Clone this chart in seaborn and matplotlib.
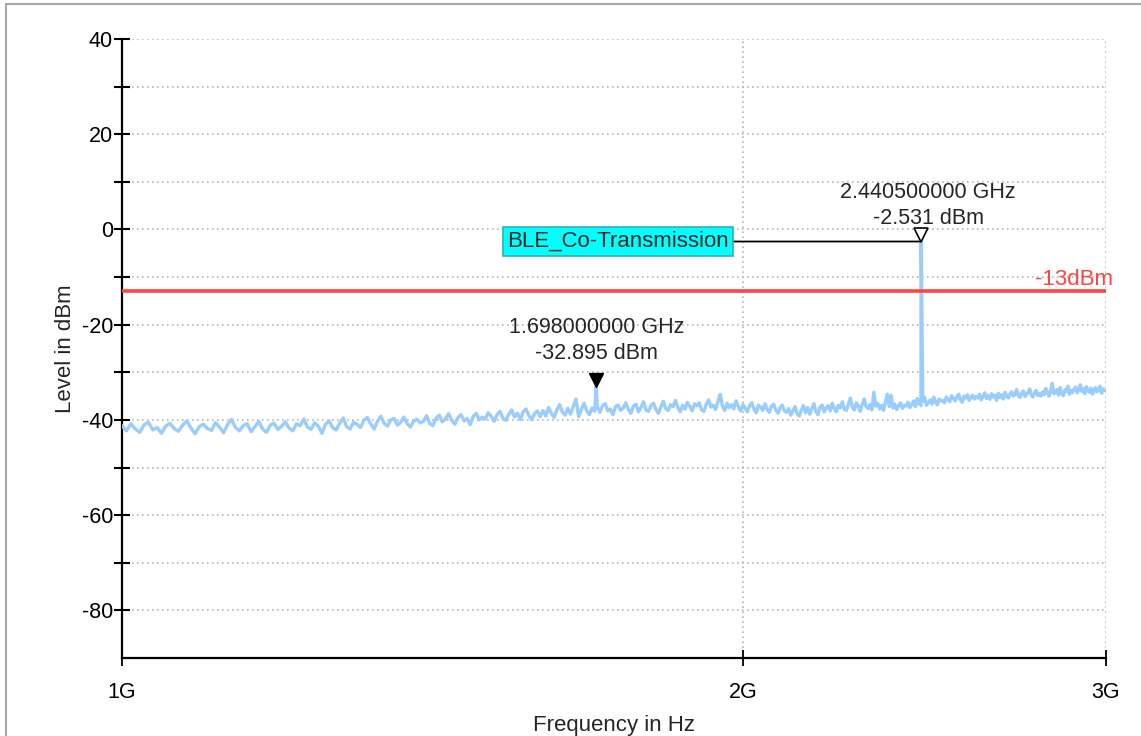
import numpy as np
import pandas as pd
import matplotlib
matplotlib.use("Agg")
import matplotlib.pyplot as plt
import matplotlib.ticker as mticker
from matplotlib.lines import Line2D
from matplotlib.transforms import offset_copy
import seaborn as sns

# ---------------- data ----------------
sweep_start_ghz = 1.0
sweep_stop_ghz = 3.0
# levels, 5 MHz steps from 1.0 GHz to 3.0 GHz (one row = 100 MHz)
sweep_levels_dbm = [
    -41.2, -42.3, -40.8, -41.9, -42.6, -41.0, -40.5, -42.1, -41.6, -42.8, -41.3, -40.7, -41.8, -42.4, -41.1, -40.2, -41.7, -42.9, -41.4, -40.9,
    -41.8, -42.2, -40.6, -41.5, -42.7, -41.0, -39.9, -41.6, -42.3, -41.2, -40.8, -42.5, -41.4, -40.3, -41.9, -42.6, -41.1, -40.7, -42.0, -41.3,
    -40.4, -41.7, -42.3, -40.8, -41.2, -39.8, -41.5, -42.0, -40.6, -41.3, -42.8, -40.9, -40.2, -41.6, -42.1, -40.7, -39.6, -41.4, -41.9, -40.5,
    -40.9, -41.6, -40.1, -39.5, -40.8, -41.9, -40.3, -39.2, -40.7, -41.3, -40.0, -39.7, -41.1, -40.5, -39.4, -40.8, -41.5, -40.2, -39.9, -40.6,
    -40.3, -39.1, -40.8, -41.2, -39.6, -39.0, -40.4, -39.8, -38.7, -40.1, -40.9, -39.5, -38.9, -40.2, -39.7, -41.0, -39.3, -38.6, -40.0, -39.4,
    -39.8, -38.5, -39.2, -40.3, -38.9, -38.2, -39.6, -40.1, -38.8, -37.9, -39.4, -38.6, -39.9, -38.3, -37.7, -39.1, -40.0, -38.7, -38.1, -39.3,
    -38.0, -39.2, -37.4, -38.6, -39.5, -37.9, -36.8, -38.3, -39.0, -37.6, -38.8, -37.2, -35.6, -39.3, -37.8, -36.5, -38.1, -38.9, -37.5, -38.2,
    -37.3, -38.4, -37.0, -36.6, -38.1, -37.7, -38.9, -37.2, -36.9, -38.0, -37.5, -36.4, -37.8, -38.6, -37.1, -36.7, -38.3, -37.4, -36.2, -37.9,
    -38.2, -37.0, -36.5, -37.8, -38.6, -37.3, -36.1, -37.6, -38.0, -36.8, -37.2, -35.9, -37.4, -38.3, -36.9, -37.7, -36.3, -37.1, -38.1, -36.6,
    -37.0, -36.4, -37.9, -38.2, -36.7, -35.8, -37.3, -36.9, -37.8, -36.2, -34.6, -37.1, -38.0, -36.5, -37.4, -36.8, -37.7, -36.0, -37.2, -38.1,
    -36.8, -37.5, -38.3, -37.0, -36.4, -37.7, -38.5, -36.9, -37.3, -38.0, -36.6, -37.8, -38.4, -37.1, -36.7, -37.9, -38.6, -37.4, -36.9, -38.1,
    -38.4, -37.6, -39.0, -38.1, -37.2, -38.7, -39.2, -37.9, -37.0, -38.5, -37.4, -38.8, -37.7, -36.6, -38.2, -38.9, -37.3, -36.9, -38.3, -37.5,
    -37.0, -38.1, -36.5, -37.6, -38.3, -36.9, -37.4, -36.2, -37.8, -38.0, -36.7, -35.4, -37.3, -37.9, -36.4, -37.1, -38.2, -36.8, -35.6, -37.2,
    -37.6, -36.8, -37.9, -34.2, -37.1, -36.5, -37.7, -36.9, -38.0, -36.3, -34.6, -37.2, -34.8, -37.5, -36.7, -37.8, -37.0, -36.4, -37.6, -36.9,
    -37.1, -36.3, -37.4, -36.8, -36.0, -37.2, -35.5, -36.6, -37.0, -36.1, -35.3, -36.9, -36.4, -35.8, -36.7, -35.2, -36.2, -36.8, -35.6, -36.0,
    -35.9, -36.4, -35.2, -35.7, -36.2, -34.9, -35.5, -36.0, -35.1, -34.6, -35.8, -36.3, -35.0, -35.4, -34.7, -35.9, -35.3, -34.8, -35.6, -35.1,
    -35.4, -34.6, -35.8, -35.1, -34.3, -35.5, -34.9, -35.7, -34.5, -35.2, -34.8, -35.9, -34.4, -35.3, -34.7, -35.6, -34.2, -35.0, -35.4, -34.6,
    -34.1, -35.0, -34.7, -33.6, -34.9, -35.3, -34.4, -33.9, -35.1, -34.6, -34.2, -33.5, -34.8, -35.2, -34.3, -33.8, -34.9, -34.5, -35.0, -34.1,
    -34.7, -33.4, -34.2, -35.0, -33.9, -32.3, -34.5, -34.1, -33.6, -34.8, -33.2, -34.4, -34.9, -33.7, -34.0, -32.9, -34.6, -33.8, -34.3, -33.5,
    -33.1, -34.3, -33.7, -32.6, -34.0, -33.4, -34.5, -33.0, -33.8, -34.2, -33.3, -34.6, -33.9, -33.2, -34.1, -33.6, -32.9, -34.4, -33.5, -33.8,
    -33.9,
]
# marker peaks
marker_freqs_ghz = [1.698, 2.4405]
marker_levels_dbm = [-32.895, -2.531]
marker_labels = ["1.698000000 GHz\n-32.895 dBm", "2.440500000 GHz\n-2.531 dBm"]
limit_level_dbm = -13
limit_label = "-13dBm"
trace_name = "BLE_Co-Transmission"
x_tick_values_hz = [1e9, 2e9, 3e9]
x_tick_labels = ["1G", "2G", "3G"]
y_major_ticks = [40, 20, 0, -20, -40, -60, -80]
y_minor_ticks = [30, 10, -10, -30, -50, -70]

# ---------------- build frame ----------------
sweep_freqs_ghz = np.linspace(sweep_start_ghz, sweep_stop_ghz, len(sweep_levels_dbm))
df = pd.DataFrame({
    "freq_hz": np.concatenate([sweep_freqs_ghz, marker_freqs_ghz]) * 1e9,
    "level": np.concatenate([sweep_levels_dbm, marker_levels_dbm]),
}).sort_values("freq_hz").reset_index(drop=True)

# ---------------- style ----------------
sns.set_style("white")
plt.rcParams["font.family"] = ["Liberation Sans", "DejaVu Sans"]
plt.rcParams["axes.unicode_minus"] = False

fig = plt.figure(figsize=(11.41, 7.36), dpi=100)
ax = fig.add_axes([122 / 1141, 1 - 658 / 736, (1106 - 122) / 1141, (658 - 39) / 736])

trace_color = "#99ccff"
sns.lineplot(data=df, x="freq_hz", y="level", ax=ax, color=trace_color,
             linewidth=2.4, estimator=None, sort=False, zorder=3)

ax.set_xscale("log")
ax.set_xlim(1e9, 3e9)
ax.set_ylim(-90, 40)

ax.xaxis.set_major_locator(mticker.FixedLocator(x_tick_values_hz))
ax.xaxis.set_major_formatter(mticker.FixedFormatter(x_tick_labels))
ax.xaxis.set_minor_locator(mticker.NullLocator())
ax.yaxis.set_major_locator(mticker.FixedLocator(y_major_ticks))
ax.yaxis.set_minor_locator(mticker.FixedLocator(y_minor_ticks))

grid_kw = dict(color="#b8b8b8", linestyle=(0, (1, 2)), linewidth=1.2)
ax.grid(True, which="major", axis="both", **grid_kw)
ax.grid(True, which="minor", axis="y", **grid_kw)
ax.set_axisbelow(True)

for s in ["top", "right"]:
    ax.spines[s].set_visible(False)
for s in ["left", "bottom"]:
    ax.spines[s].set_color("black")
    ax.spines[s].set_linewidth(1.6)

ax.tick_params(axis="y", which="both", left=True, direction="inout", length=11, width=1.5,
               colors="black", labelsize=15.5, pad=1)
ax.tick_params(axis="x", which="major", bottom=True, direction="inout", length=12, width=1.3,
               colors="black", labelsize=15.5, pad=11)

ax.set_xlabel("Frequency in Hz", fontsize=16, labelpad=9)
ax.set_ylabel("Level in dBm", fontsize=16, labelpad=4)

# limit line
ax.axhline(limit_level_dbm, color="#ff4444", linewidth=2.6, zorder=4)
ax.text(1.007, limit_level_dbm + 0.3, limit_label, transform=ax.get_yaxis_transform(),
        ha="right", va="bottom", color="#ff4444", fontsize=16, clip_on=False)

# markers
tri_up = offset_copy(ax.transData, fig=fig, y=4.5, units="points")
ax.plot(marker_freqs_ghz[0] * 1e9, marker_levels_dbm[0], marker="v", markersize=10,
        color="black", markeredgecolor="black", linestyle="none", transform=tri_up, zorder=6)
ax.plot(marker_freqs_ghz[1] * 1e9, marker_levels_dbm[1], marker="v", markersize=10,
        markerfacecolor="white", markeredgecolor="black", markeredgewidth=1.2,
        linestyle="none", transform=tri_up, zorder=6)

ax.annotate(marker_labels[0], xy=(marker_freqs_ghz[0] * 1e9, marker_levels_dbm[0]),
            xytext=(0, 16), textcoords="offset points", ha="center", va="bottom",
            fontsize=15.5, linespacing=1.3)
ax.annotate(marker_labels[1], xy=(marker_freqs_ghz[1] * 1e9, marker_levels_dbm[1]),
            xytext=(5, 9), textcoords="offset points", ha="center", va="bottom",
            fontsize=15.5, linespacing=1.3)

# trace label box connected to peak marker
ax.annotate(trace_name, xy=(marker_freqs_ghz[1] * 1e9, marker_levels_dbm[1]),
            xytext=(1.74e9, marker_levels_dbm[1]), textcoords="data",
            ha="center", va="center", fontsize=16, zorder=7,
            bbox=dict(boxstyle="square,pad=0.2", facecolor="#00ffff",
                      edgecolor="#30b0b0", linewidth=1.2),
            arrowprops=dict(arrowstyle="-", color="black", linewidth=1.3,
                            shrinkA=0, shrinkB=0))

# outer window frame (top & left edges)
fig.add_artist(Line2D([6 / 1141, 1.0], [1 - 4 / 736, 1 - 4 / 736],
                      transform=fig.transFigure, color="#a8a8a8", linewidth=1.5))
fig.add_artist(Line2D([6 / 1141, 6 / 1141], [0.0, 1 - 4 / 736],
                      transform=fig.transFigure, color="#a8a8a8", linewidth=1.5))

fig.savefig("out.png", dpi=100)
